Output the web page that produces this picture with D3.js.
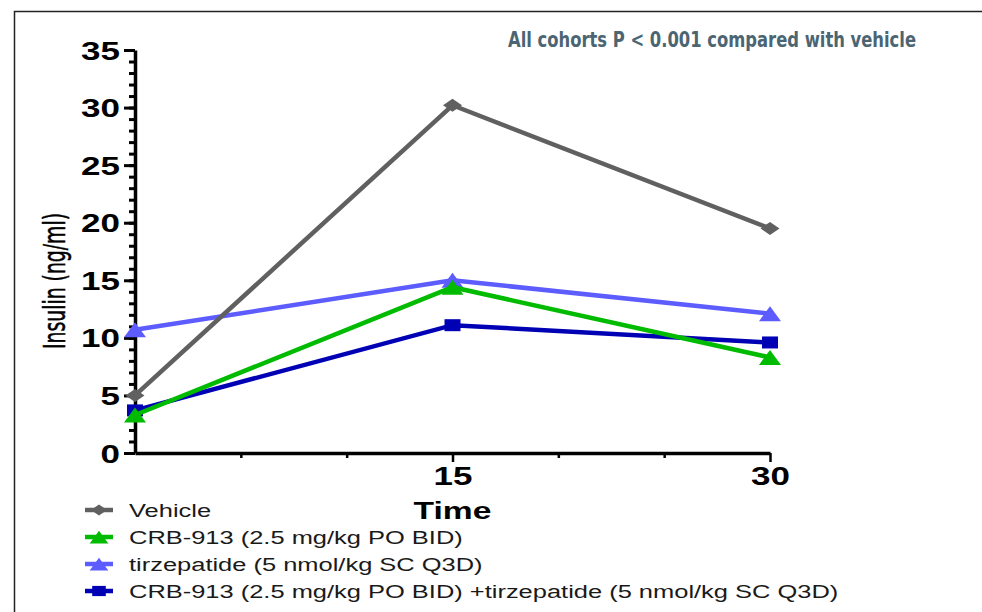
<!DOCTYPE html>
<html>
<head>
<meta charset="utf-8">
<script src="https://cdn.jsdelivr.net/npm/d3@7"></script>
<style>
  body { margin: 0; background: #fff; overflow: hidden; }
  svg { display: block; }
</style>
</head>
<body>
<div id="chart"></div>
<script>
// values
const times = [0, 15, 30];
const vehicle = [5.0, 30.2, 19.5];
const crb913 = [3.3, 14.4, 8.3];
const tirzepatide = [10.7, 15.0, 12.1];
const combo = [3.7, 11.1, 9.6];

const seriesNames = [
  "Vehicle",
  "CRB-913 (2.5 mg/kg PO BID)",
  "tirzepatide (5 nmol/kg SC Q3D)",
  "CRB-913 (2.5 mg/kg PO BID) +tirzepatide (5 nmol/kg SC Q3D)"
];
const seriesColors = ["#606060", "#00bb00", "#5c5cff", "#0000b4"];
const seriesShapes = ["diamond", "triangle", "triangle", "square"];

const yMajorTicks = [0, 5, 10, 15, 20, 25, 30, 35];
const yMinorTicks = d3.range(0, 36, 1);
const xMajorTicks = [15, 30];
const xMinorTicks = [5, 10, 20, 25];
const note = "All cohorts P < 0.001 compared with vehicle";

const width = 982, height = 612;
const stretch = 1.4; // the figure is squashed wide, text too

const svg = d3.select("#chart").append("svg")
  .attr("width", width)
  .attr("height", height);

// frame (only left and top edges are in view)
svg.append("path")
  .attr("d", "M14.5,612V11.5H990")
  .attr("fill", "none")
  .attr("stroke", "#222")
  .attr("stroke-width", 1.5);

const x = d3.scaleLinear().domain([0, 30]).range([135, 770]);
const y = d3.scaleLinear().domain([0, 35]).range([453, 50]);

function shape(kind, w, h) {
  const a = w / 2, b = h / 2;
  if (kind == "diamond") return `M0,${-b}L${a},0L0,${b}L${-a},0Z`;
  if (kind == "triangle") return `M0,${-b}L${a},${b}L${-a},${b}Z`;
  return `M${-a},${-b}H${a}V${b}H${-a}Z`;
}
const markerSize = {diamond: [19, 13], triangle: [22, 15], square: [16, 12]};

// y axis: minor then major ticks
svg.append("g")
  .attr("transform", `translate(${x(0)},0)`)
  .call(d3.axisLeft(y).tickValues(yMinorTicks).tickSize(6).tickFormat(""))
  .call(g => g.select(".domain").remove())
  .call(g => g.selectAll("line").attr("stroke", "#000").attr("stroke-width", 3));

const yAxis = svg.append("g")
  .attr("transform", `translate(${x(0)},0)`)
  .call(d3.axisLeft(y).tickValues(yMajorTicks).tickSize(11).tickSizeOuter(0))
  .call(g => g.select(".domain").attr("stroke", "#000").attr("stroke-width", 3.5))
  .call(g => g.selectAll("line").attr("stroke", "#000").attr("stroke-width", 3));
yAxis.selectAll("text")
  .attr("x", 0).attr("dy", null)
  .attr("transform", `translate(-15,9) scale(${stretch},1)`)
  .attr("font-family", "Liberation Sans, Arial, sans-serif")
  .attr("font-weight", "bold")
  .attr("font-size", 25)
  .attr("fill", "#000");

// x axis
svg.append("g")
  .attr("transform", `translate(0,${y(0)})`)
  .call(d3.axisBottom(x).tickValues(xMinorTicks).tickSize(5).tickFormat(""))
  .call(g => g.select(".domain").remove())
  .call(g => g.selectAll("line").attr("stroke", "#000").attr("stroke-width", 2.5));

const xAxis = svg.append("g")
  .attr("transform", `translate(0,${y(0)})`)
  .call(d3.axisBottom(x).tickValues(xMajorTicks).tickSize(9).tickSizeOuter(0))
  .call(g => g.select(".domain").attr("stroke", "#000").attr("stroke-width", 3.5))
  .call(g => g.selectAll("line").attr("stroke", "#000").attr("stroke-width", 2.5));
xAxis.selectAll("text")
  .attr("y", 0).attr("dy", null)
  .attr("transform", `translate(0,32) scale(${stretch},1)`)
  .attr("font-family", "Liberation Sans, Arial, sans-serif")
  .attr("font-weight", "bold")
  .attr("font-size", 25)
  .attr("fill", "#000");

// axis titles
svg.append("text")
  .attr("transform", `translate(${x(15)},519) scale(${stretch},1)`)
  .attr("text-anchor", "middle")
  .attr("font-family", "Liberation Sans, Arial, sans-serif")
  .attr("font-weight", "bold")
  .attr("font-size", 24)
  .text("Time");

svg.append("text")
  .attr("transform", "translate(65,281) rotate(-90)")
  .attr("text-anchor", "middle")
  .attr("font-family", "Liberation Sans Narrow, DejaVu Sans Condensed, sans-serif")
  .attr("font-size", 31)
  .attr("textLength", 136)
  .attr("lengthAdjust", "spacingAndGlyphs")
  .attr("fill", "#000")
  .attr("stroke", "#000")
  .attr("stroke-width", 0.5)
  .text("Insulin (ng/ml)");

svg.append("text")
  .attr("x", 916).attr("y", 47)
  .attr("text-anchor", "end")
  .attr("font-family", "Liberation Sans Narrow, DejaVu Sans Condensed, sans-serif")
  .attr("font-weight", "bold")
  .attr("font-size", 21)
  .attr("textLength", 408)
  .attr("lengthAdjust", "spacingAndGlyphs")
  .attr("fill", "#4b6572")
  .text(note);

// series, drawn bottom to top as in the figure
const allSeries = [vehicle, crb913, tirzepatide, combo].map((vals, i) => ({
  name: seriesNames[i],
  color: seriesColors[i],
  shape: seriesShapes[i],
  points: vals.map((v, j) => ({t: times[j], v: v}))
}));

const line = d3.line().x(d => x(d.t)).y(d => y(d.v));
const drawOrder = [3, 2, 1, 0];

drawOrder.forEach(i => {
  const s = allSeries[i];
  const g = svg.append("g");
  g.append("path")
    .attr("d", line(s.points))
    .attr("fill", "none")
    .attr("stroke", s.color)
    .attr("stroke-width", 4.5);
  g.selectAll("path.mark")
    .data(s.points)
    .enter()
    .append("path")
    .attr("class", "mark")
    .attr("transform", d => `translate(${x(d.t)},${y(d.v)})`)
    .attr("d", shape(s.shape, ...markerSize[s.shape]))
    .attr("fill", s.color);
});

// legend
const legend = svg.append("g").attr("transform", "translate(0,510)");
const rows = legend.selectAll("g")
  .data(allSeries)
  .enter()
  .append("g")
  .attr("transform", (d, i) => `translate(0,${i * 27})`);
rows.append("line")
  .attr("x1", 85).attr("x2", 113)
  .attr("stroke", d => d.color)
  .attr("stroke-width", 4.5);
rows.append("path")
  .attr("transform", "translate(99,0)")
  .attr("d", d => shape(d.shape, markerSize[d.shape][0] * 0.85, markerSize[d.shape][1] * 0.85))
  .attr("fill", d => d.color);
rows.append("text")
  .attr("transform", `translate(129,7) scale(1.34,1)`)
  .attr("font-family", "Liberation Sans, Arial, sans-serif")
  .attr("font-size", 19)
  .attr("fill", "#1a1a1a")
  .text(d => d.name);
</script>
</body>
</html>
